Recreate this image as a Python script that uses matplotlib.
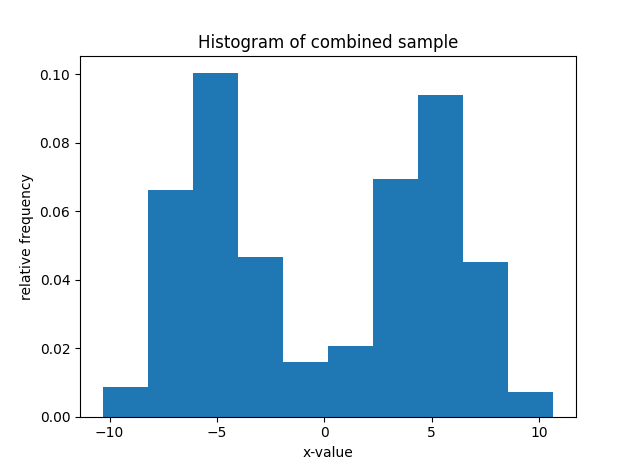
import numpy as np
import matplotlib
matplotlib.use("Agg")
import matplotlib.pyplot as plt

bin_edges = [-10.33, -8.23, -6.13, -4.03, -1.93, 0.17, 2.27, 4.37, 6.47, 8.57, 10.67]
densities = [0.0087, 0.0661, 0.1002, 0.0466, 0.0160, 0.0207, 0.0693, 0.0938, 0.0452, 0.0071]

centers = [(a + b) / 2 for a, b in zip(bin_edges[:-1], bin_edges[1:])]

fig, ax = plt.subplots(figsize=(6.4, 4.68), dpi=100)
ax.hist(centers, bins=bin_edges, weights=densities, color="#1f77b4")
ax.set_title("Histogram of combined sample")
ax.set_xlabel("x-value")
ax.set_ylabel("relative frequency")
fig.savefig("out.png")
